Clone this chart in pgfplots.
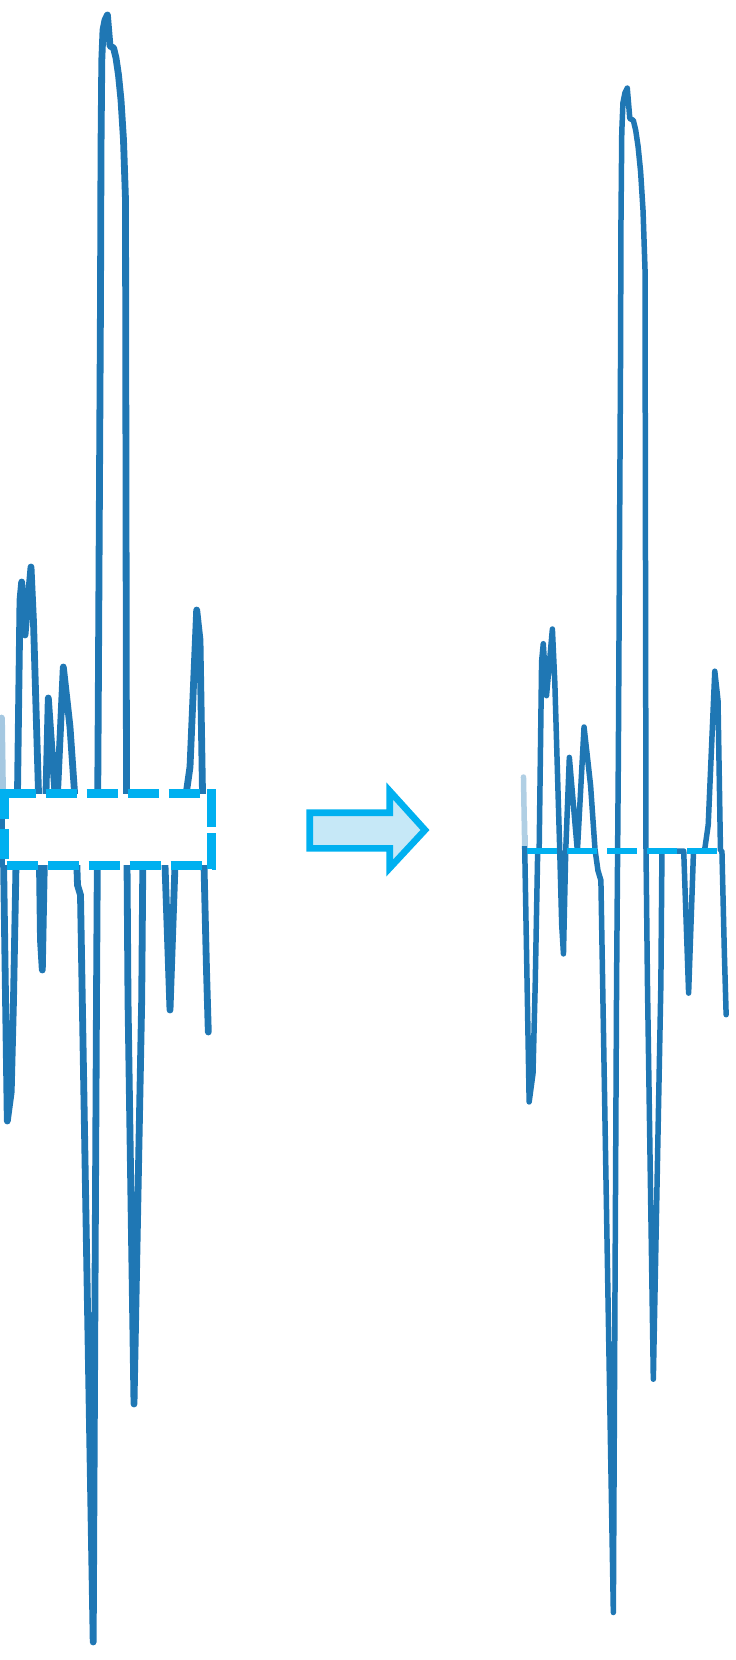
\documentclass[border=0pt]{standalone}
\usepackage{pgfplots}
\pgfplotsset{compat=1.18}
\definecolor{sig}{HTML}{1F77B4}
\definecolor{cy}{HTML}{00B0F0}
\definecolor{cyfill}{HTML}{C6E8F7}
\begin{document}
\begin{tikzpicture}
\begin{axis}[
  at={(0,0)}, anchor=south west,
  width=7.35cm, height=16.6cm, scale only axis,
  xmin=0, xmax=735, ymin=0, ymax=1660, y dir=reverse,
  hide axis, clip=true,
]
% original signal (left)
\addplot[sig, line width=0.068cm, line join=round, line cap=round] coordinates {
(1.5,718) (7.3,1121) (11.2,1092) (13.5,1000) (16,865) (17.5,793) (20,600) (21.7,582)
(25,635) (31,567) (33.5,622) (38.5,793) (40.5,940) (42.3,970) (44.6,850) (48.3,698)
(56.5,815) (63.3,667) (67,700) (70,727) (74.5,792) (77.5,885) (80.5,895) (93.2,1642)
(96.5,1000) (98.3,700) (100.5,300) (101,150) (101.8,60) (103,30) (105,20) (107.4,15)
(110,46) (113.6,48) (116,58) (118.5,75) (121,100)
(123.5,140) (125.5,200) (126.5,790) (128,1000) (134,1404) (141.7,1000) (142.8,865)
(144,829) (163.5,829) (165,865) (170,1010) (175,865) (176,829) (185.5,829) (186.7,790)
(190,767) (196.7,610) (200,640) (202.5,793) (204,865) (206.5,970) (208.3,1032)
};
% fade at the clipped left edge
\fill[white, opacity=0.6] (axis cs:0,690) rectangle (axis cs:5.5,789);
% band box (white fill hides the band)
\fill[white] (axis cs:4.7,793.5) rectangle (axis cs:211.7,865);
\draw[cy, line width=0.09cm, dash pattern=on 0.31cm off 0.10cm] (axis cs:4.7,793.5) -- (axis cs:216.2,793.5);
\draw[cy, line width=0.09cm, dash pattern=on 0.31cm off 0.10cm] (axis cs:6.7,865) -- (axis cs:216.2,865);
\draw[cy, line width=0.09cm, dash pattern=on 0.30cm off 0.10cm] (axis cs:4.7,789) -- (axis cs:4.7,869);
\draw[cy, line width=0.09cm, dash pattern=on 0.38cm off 0.06cm] (axis cs:211.7,789) -- (axis cs:211.7,869);
% compressed signal (right)
\addplot[sig, line width=0.055cm, line join=round, line cap=round] coordinates {
(523.47,777.0) (529.15,1101.9) (532.98,1073.5) (535.23,983.3) (537.68,851) (539.15,850.5)
(541.6,661.4) (543.27,643.7) (546.5,695.7) (552.38,629.0) (554.83,682.9) (559.73,850.5)
(561.69,924.5) (563.45,953.9) (565.71,851) (569.33,757.4) (577.37,851) (584.03,727.0)
(587.66,759.4) (590.6,785.8) (595.01,849.5) (597.95,870.6) (600.89,880.4) (613.34,1612.5)
(616.57,983.3) (618.33,759.4) (620.49,367.4) (620.98,220.4) (621.76,132.2) (622.94,102.8)
(624.9,93.0) (627.25,88.1) (629.8,118.5) (633.33,120.4) (635.68,130.2) (638.13,146.9)
(640.58,171.4) (643.03,210.6) (644.99,269.4) (645.97,847.6) (647.44,983.3)
(653.32,1379.2) (660.87,983.3) (661.94,851) (663.12,851) (682.23,851) (683.7,851)
(688.6,993.1) (693.5,851) (694.48,851) (703.79,851) (704.97,847.6) (708.2,825.0)
(714.77,671.2) (718.0,700.6) (720.45,850.5) (721.92,851) (724.37,953.9) (726.13,1014.7)
};
\fill[white, opacity=0.65] (axis cs:519,760) rectangle (axis cs:526.5,846);
\draw[cy, line width=0.055cm, dash pattern=on 0.30cm off 0.10cm] (axis cs:527,851) -- (axis cs:720,851);
% arrow
\draw[cy, line width=0.066cm, fill=cyfill, line join=miter]
  (axis cs:309.7,812.7) -- (axis cs:389.7,812.7) -- (axis cs:389.7,791) -- (axis cs:425,830)
  -- (axis cs:389.7,868) -- (axis cs:389.7,848.3) -- (axis cs:309.7,848.3) -- cycle;
\end{axis}
\pgfresetboundingbox
\path (current axis.south west) rectangle (current axis.north east);
\end{tikzpicture}
\end{document}
